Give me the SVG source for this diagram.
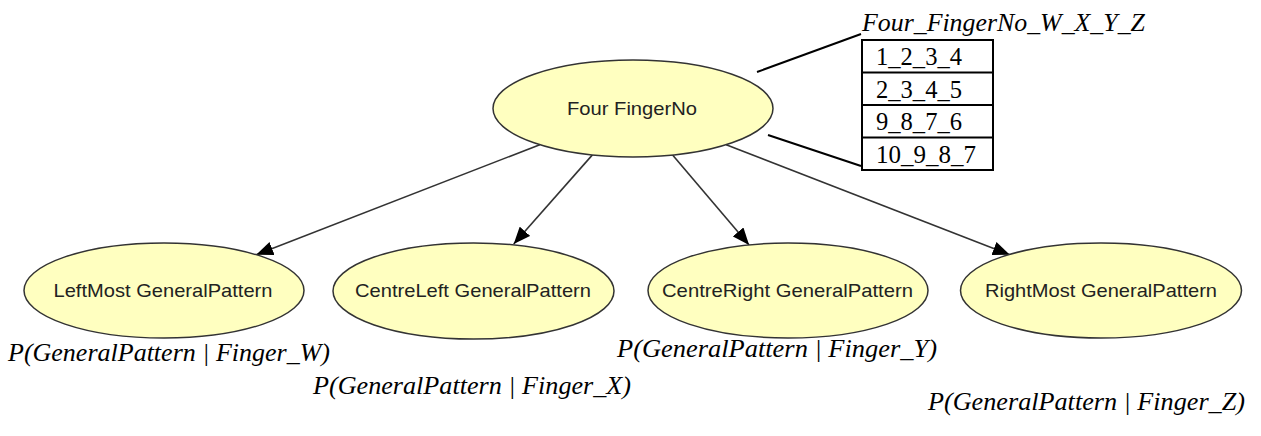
<svg xmlns="http://www.w3.org/2000/svg" width="1261" height="436" viewBox="0 0 1261 436">
<style>
.node ellipse{fill:#ffffc0;stroke:#333;stroke-width:1.5}
.node text{font-family:"Liberation Sans",Arial,sans-serif;font-size:19px;fill:#222;text-anchor:middle}
.edge{stroke:#333;stroke-width:1.6;fill:none;marker-end:url(#arr)}
.call{stroke:#000;stroke-width:2;fill:none}
.lbl{font-family:"Liberation Serif","Times New Roman",serif;font-style:italic;font-size:26px;fill:#000}
.cell{font-family:"Liberation Serif","Times New Roman",serif;font-size:25px;fill:#000}
</style>
<defs>
<marker id="arr" markerUnits="userSpaceOnUse" markerWidth="18" markerHeight="14" refX="17" refY="7" orient="auto">
<path d="M0,0 L17,7 L0,14 z" fill="#000"/>
</marker>
</defs>
<rect width="1261" height="436" fill="#fff"/>
<g id="connectors">
<line class="edge" x1="539.8" y1="144.7" x2="256.2" y2="254.7"/>
<line class="edge" x1="592.4" y1="154.9" x2="513.7" y2="244"/>
<line class="edge" x1="672.6" y1="155" x2="749.1" y2="244.9"/>
<line class="edge" x1="726.2" y1="144.7" x2="1009.8" y2="254.7"/>
<line class="call" x1="757" y1="72" x2="861" y2="34"/>
<line class="call" x1="768" y1="135" x2="861" y2="166"/>
</g>
<g id="FourFingerNo" class="node">
<ellipse cx="633" cy="108.5" rx="140" ry="48.5"/>
<text x="632" y="115" textLength="130" lengthAdjust="spacingAndGlyphs">Four FingerNo</text>
</g>
<g id="LeftMost" class="node">
<ellipse cx="164" cy="290.5" rx="140" ry="47.5"/>
<text x="163" y="297" textLength="219" lengthAdjust="spacingAndGlyphs">LeftMost GeneralPattern</text>
</g>
<g id="CentreLeft" class="node">
<ellipse cx="473.5" cy="291" rx="140.5" ry="48"/>
<text x="473" y="297" textLength="236" lengthAdjust="spacingAndGlyphs">CentreLeft GeneralPattern</text>
</g>
<g id="CentreRight" class="node">
<ellipse cx="788" cy="290.5" rx="140" ry="47.5"/>
<text x="787.5" y="297" textLength="251" lengthAdjust="spacingAndGlyphs">CentreRight GeneralPattern</text>
</g>
<g id="RightMost" class="node">
<ellipse cx="1101" cy="290.5" rx="140.5" ry="47.5"/>
<text x="1101" y="297" textLength="232" lengthAdjust="spacingAndGlyphs">RightMost GeneralPattern</text>
</g>
<g id="table">
<text class="lbl" x="862" y="31" textLength="283" lengthAdjust="spacingAndGlyphs">Four_FingerNo_W_X_Y_Z</text>
<rect x="862" y="40" width="131" height="130" fill="#fff" stroke="#000" stroke-width="2"/>
<line x1="862" y1="72.5" x2="993" y2="72.5" stroke="#000" stroke-width="2"/>
<line x1="862" y1="105" x2="993" y2="105" stroke="#000" stroke-width="2"/>
<line x1="862" y1="137.5" x2="993" y2="137.5" stroke="#000" stroke-width="2"/>
<text class="cell" x="876" y="65" textLength="86" lengthAdjust="spacingAndGlyphs">1_2_3_4</text>
<text class="cell" x="876" y="97.5" textLength="86" lengthAdjust="spacingAndGlyphs">2_3_4_5</text>
<text class="cell" x="876" y="130" textLength="86" lengthAdjust="spacingAndGlyphs">9_8_7_6</text>
<text class="cell" x="876" y="162.5" textLength="100" lengthAdjust="spacingAndGlyphs">10_9_8_7</text>
</g>
<g id="labels">
<text class="lbl" x="8" y="361" textLength="322" lengthAdjust="spacingAndGlyphs">P(GeneralPattern | Finger_W)</text>
<text class="lbl" x="313" y="394" textLength="318" lengthAdjust="spacingAndGlyphs">P(GeneralPattern | Finger_X)</text>
<text class="lbl" x="617" y="357" textLength="320" lengthAdjust="spacingAndGlyphs">P(GeneralPattern | Finger_Y)</text>
<text class="lbl" x="928" y="410" textLength="317" lengthAdjust="spacingAndGlyphs">P(GeneralPattern | Finger_Z)</text>
</g>
</svg>
